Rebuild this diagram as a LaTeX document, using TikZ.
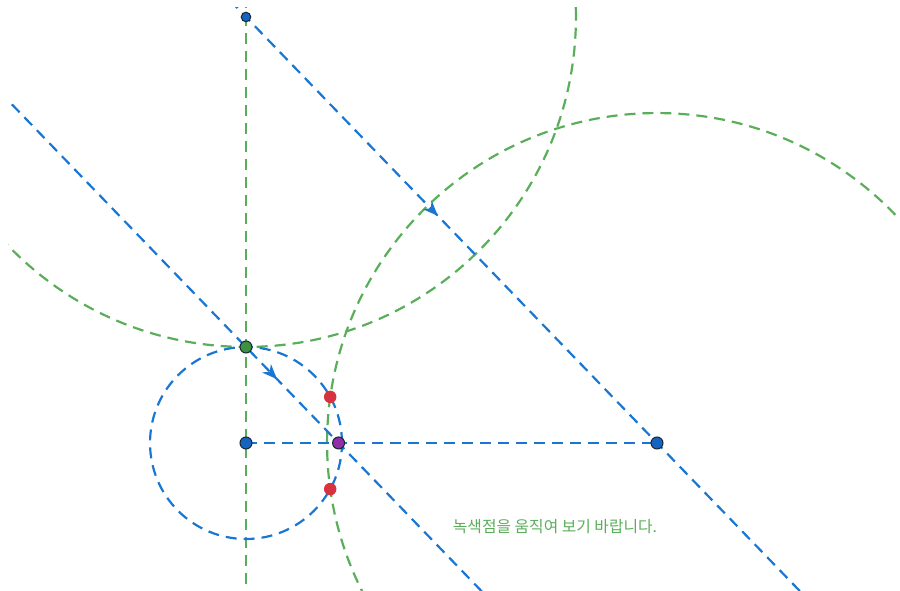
\documentclass[tikz,border=0pt]{standalone}
\usepackage{fontspec}
\newfontfamily\krfont{Noto Sans CJK KR}
\usepackage{xcolor}
\usetikzlibrary{calc,arrows.meta,decorations.markings}
\definecolor{gBlue}{HTML}{1976D2}
\definecolor{gGreen}{HTML}{5AAE5A}
\definecolor{gRed}{HTML}{D7333F}
\definecolor{gPurple}{HTML}{8E2FA8}
\definecolor{gDark}{HTML}{1C2833}
\definecolor{gPtBlue}{HTML}{1565C0}
\definecolor{gPtGreen}{HTML}{3E9142}

\begin{document}
\begin{tikzpicture}[x=0.02cm, y=-0.02cm,
  dline/.style={dash pattern=on 0.22cm off 0.14cm, line width=1.25pt},
  bline/.style={dline, draw=gBlue},
  gline/.style={dline, draw=gGreen},
  midarrow/.style={postaction={decorate}, decoration={markings,
    mark=at position #1 with {\arrow[gBlue]{Stealth[length=0.3cm,width=0.24cm,inset=0.09cm]}}}},
  pt/.style={circle, draw=gDark, line width=0.6pt, inner sep=0pt, minimum size=0.24cm},
  bpt/.style={pt, fill=gPtBlue},
  gpt/.style={pt, fill=gPtGreen},
  ppt/.style={pt, fill=gPurple},
  rpt/.style={circle, fill=gRed, inner sep=0pt, minimum size=0.25cm}]
\useasboundingbox (0,0) rectangle (900,591);
% points of the construction
\coordinate (T) at (246,17);
\coordinate (C) at (246,443);
\coordinate (G) at (246,347);
\coordinate (P) at (657,443);
\coordinate (G2) at ($(G)+(P)-(T)$);
\coordinate (M) at ($(G)!0.2253!(G2)$);
\coordinate (R1) at (330.2,396.9);
\coordinate (R2) at (330.2,489.1);
\begin{scope}
\clip (8,8) rectangle (898,591);
\draw[gline] ($(T)+(0,-20)$) -- ($(C)+(0,170)$);
\draw[gline] (T) circle[radius=6.6cm];
\draw[gline] (P) circle[radius=6.6cm];
\draw[bline] (C) circle[radius=1.92cm];
\draw[bline] (C) -- (P);
\draw[bline, midarrow=0.378] ($(T)!-0.1!(P)$) -- ($(T)!1.4!(P)$);
\draw[bline, midarrow=0.563] ($(G)!-0.6!(G2)$) -- ($(G)!0.6!(G2)$);
\end{scope}
\node[bpt, minimum size=0.19cm] (t) at (T) {};
\node[bpt] (c) at (C) {};
\node[bpt] (p) at (P) {};
\node[gpt] (g) at (G) {};
\node[rpt] (r1) at (R1) {};
\node[rpt] (r2) at (R2) {};
\node[ppt] (m) at (M) {};
\node[text=gGreen, font=\krfont\fontsize{9pt}{11pt}\selectfont] (hint) at (555,527) {녹색점을 움직여 보기 바랍니다.};
\end{tikzpicture}
\end{document}
